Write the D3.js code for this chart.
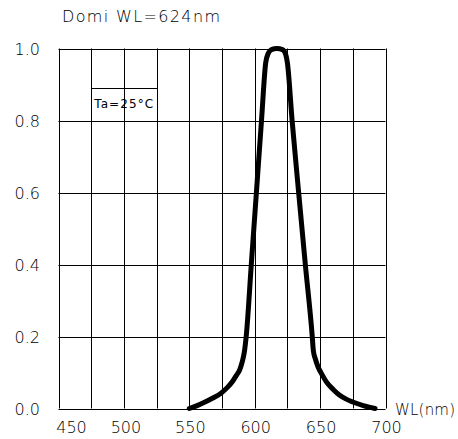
<!DOCTYPE html>
<html>
<head>
<meta charset="utf-8">
<script src="https://cdn.jsdelivr.net/npm/d3@7"></script>
<style>
    body { margin: 0; background: #fff; }
    svg text { font-family: "DejaVu Sans", sans-serif; fill: #000; }
</style>
</head>
<body>
<svg></svg>
<script>
// wavelength (nm) and relative intensity
var wavelength = [550, 556, 562, 568, 574, 579, 583, 586, 588.6, 590.5, 592, 593.5, 597.4, 601.3, 605.2, 608.4,
    610.3, 612.8, 617, 621.2, 623.5, 625, 628.6, 633.6, 638.7, 644, 644.8, 646.5, 648.4, 651.5, 654.8, 660, 665,
    670, 675, 683, 692];
var intensity = [0, 0.008, 0.018, 0.029, 0.042, 0.058, 0.075, 0.092, 0.108, 0.13, 0.155, 0.2, 0.4, 0.6, 0.8, 0.96,
    0.986, 0.997, 1.0, 0.997, 0.986, 0.96, 0.8, 0.6, 0.4, 0.2, 0.162, 0.136, 0.116, 0.094, 0.074, 0.053, 0.037,
    0.026, 0.018, 0.008, 0];

var xGrid = d3.range(450, 701, 25);
var xTicks = [450, 500, 550, 600, 650, 700];
var yTicks = [0, 0.2, 0.4, 0.6, 0.8, 1.0];

var title = "Domi  WL=624nm";
var xLabel = "WL(nm)";
var note = "Ta=25°C";

var width = 458;
var height = 439;
var margin = { top: 48.5, right: 72.5, bottom: 30.5, left: 58.5 };

var svg = d3.select("svg").attr("width", width).attr("height", height);

var x = d3.scaleLinear().domain([450, 700]).range([margin.left, width - margin.right]);
var y = d3.scaleLinear().domain([0, 1]).range([height - margin.bottom, margin.top]);

// grid
svg.append("g")
    .selectAll("line")
    .data(xGrid)
    .enter()
    .append("line")
    .attr("x1", function (d) { return Math.round(x(d)) + 0.5; })
    .attr("x2", function (d) { return Math.round(x(d)) + 0.5; })
    .attr("y1", y(1))
    .attr("y2", y(0))
    .attr("stroke", "#000")
    .attr("stroke-width", 1);

svg.append("g")
    .selectAll("line")
    .data(yTicks)
    .enter()
    .append("line")
    .attr("x1", x(450))
    .attr("x2", x(700))
    .attr("y1", function (d) { return Math.round(y(d)) + 0.5; })
    .attr("y2", function (d) { return Math.round(y(d)) + 0.5; })
    .attr("stroke", "#000")
    .attr("stroke-width", 1);

// note box, sitting in the 475-525 columns just above 0.8
var boxTop = y(0.8) - 33;
svg.append("path")
    .attr("d", "M" + (Math.round(x(475)) + 0.5) + "," + (Math.round(boxTop) + 0.5) +
        "H" + (Math.round(x(525)) + 0.5))
    .attr("stroke", "#000")
    .attr("fill", "none");

svg.append("text")
    .attr("x", x(475) + 3)
    .attr("y", y(0.8) - 13)
    .attr("font-size", 12)
    .attr("textLength", 59)
    .text(note);

// y labels
svg.append("g")
    .selectAll("text")
    .data(yTicks)
    .enter()
    .append("text")
    .attr("x", 40)
    .attr("y", function (d) { return y(d) + 6; })
    .attr("text-anchor", "end")
    .attr("font-size", 16)
    .attr("font-weight", 300)
    .text(function (d) { return d.toFixed(1); });

// x labels
svg.append("g")
    .selectAll("text")
    .data(xTicks)
    .enter()
    .append("text")
    .attr("x", function (d) { return x(d); })
    .attr("dx", function (d, i) { return i === 0 ? 13 : (i === 1 ? 2 : 1); })
    .attr("y", 433)
    .attr("text-anchor", "middle")
    .attr("font-size", 16)
    .attr("font-weight", 300)
    .text(function (d) { return d; });

svg.append("text")
    .attr("x", 395)
    .attr("y", 415)
    .attr("font-size", 15)
    .attr("font-weight", 300)
    .attr("textLength", 60)
    .text(xLabel);

svg.append("text")
    .attr("x", 62)
    .attr("y", 22)
    .attr("font-size", 16)
    .attr("font-weight", 300)
    .attr("textLength", 158)
    .text(title);

// spectrum curve
var points = wavelength.map(function (w, i) { return [w, intensity[i]]; });

var line = d3.line()
    .x(function (d) { return x(d[0]); })
    .y(function (d) { return y(d[1]); })
    .curve(d3.curveMonotoneX);

svg.append("path")
    .datum(points)
    .attr("d", line)
    .attr("fill", "none")
    .attr("stroke", "#000")
    .attr("stroke-width", 5)
    .attr("stroke-linecap", "round")
    .attr("stroke-linejoin", "round");
</script>
</body>
</html>
